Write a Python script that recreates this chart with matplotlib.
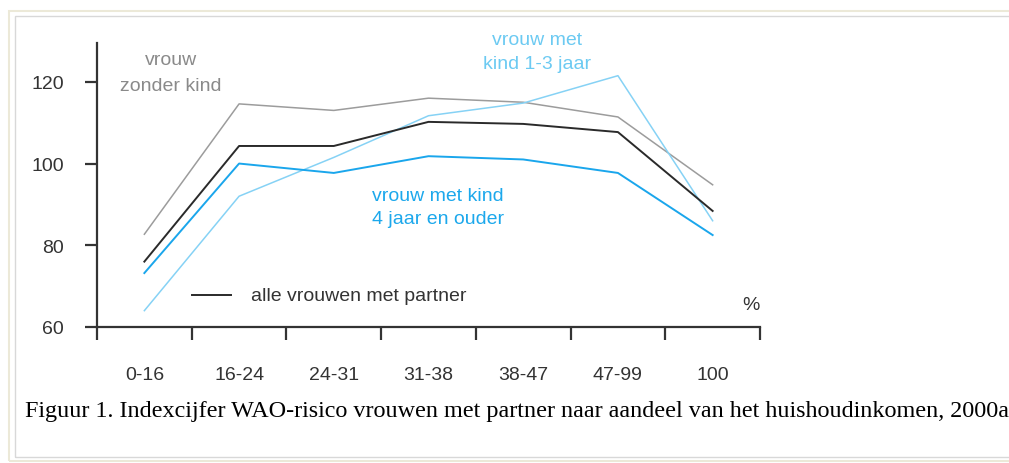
import numpy as np
import matplotlib
matplotlib.use('Agg')
from matplotlib import pyplot as plt
from matplotlib.patches import Rectangle

categories = ['0-16', '16-24', '24-31', '31-38', '38-47', '47-99', '100']
alle = [76, 104.3, 104.3, 110.2, 109.7, 107.7, 88.4]
zonder_kind = [82.7, 114.6, 113, 116, 115, 111.4, 94.8]
kind_1_3 = [64, 92, 101.5, 111.7, 114.8, 121.5, 86]
kind_4_ouder = [73.2, 100, 97.7, 101.8, 101, 97.7, 82.5]
yticks = [60, 80, 100, 120]

W, H = 1009, 464
fig = plt.figure(figsize=(W / 100, H / 100), dpi=100)
plt.rcParams['font.family'] = ['Liberation Sans', 'DejaVu Sans']

# frame round the picture
fig.add_artist(Rectangle((9 / W, 1 - 462 / H), 1.2, (462 - 12) / H, transform=fig.transFigure,
                         fill=False, edgecolor='#ece9d8', lw=1.5))
fig.add_artist(Rectangle((15 / W, 1 - 458 / H), 1.2, (458 - 17) / H, transform=fig.transFigure,
                         fill=False, edgecolor='#d8d8d8', lw=1))

ax = fig.add_axes([97 / W, 1 - 328 / H, (760 - 97) / W, (328 - 44) / H])
x = np.arange(len(categories)) + 0.5

ax.plot(x, zonder_kind, color='#9c9c9c', lw=1.1)
ax.plot(x, kind_1_3, color='#86d2f5', lw=1.1)
ax.plot(x, alle, color='#2a2a2a', lw=1.4)
ax.plot(x, kind_4_ouder, color='#1aa6ec', lw=1.4)

ax.set_xlim(0, len(categories))
ax.set_ylim(60, 129.5)

for s in ['top', 'right']:
    ax.spines[s].set_visible(False)
for s in ['left', 'bottom']:
    ax.spines[s].set_color('#333333')
    ax.spines[s].set_linewidth(1.6)

ax.set_yticks(yticks)
ax.set_yticklabels([str(v) for v in yticks])
ax.tick_params(axis='y', direction='out', length=8.6, width=1.6, color='#333333',
               pad=15, labelsize=14, labelcolor='#333333')

ax.set_xticks(np.arange(len(categories) + 1))
ax.set_xticklabels([])
ax.set_xticks(x, minor=True)
ax.set_xticklabels(categories, minor=True)
ax.tick_params(axis='x', which='major', direction='out', length=9.4, width=1.6, color='#333333')
ax.tick_params(axis='x', which='minor', length=0, pad=28, labelsize=14, labelcolor='#333333')

ax.text(0.78, 122.3, 'vrouw\nzonder kind', color='#8a8a8a', fontsize=14, ha='center', va='center',
        linespacing=1.65)
ax.text(4.65, 127.5, 'vrouw met\nkind 1-3 jaar', color='#6ccaf2', fontsize=14, ha='center', va='center',
        linespacing=1.55)
ax.text(3.6, 89.4, 'vrouw met kind\n4 jaar en ouder', color='#1ca8ec', fontsize=14, ha='center', va='center',
        linespacing=1.5)
ax.plot([1.0, 1.42], [67.8, 67.8], color='#2a2a2a', lw=1.4)
ax.text(1.63, 67.8, 'alle vrouwen met partner', color='#333333', fontsize=14, va='center')
ax.text(6.9, 65.5, '%', color='#333333', fontsize=14, ha='center', va='center')

fig.text(25 / W, 1 - 412 / H, 'Figuur 1. Indexcijfer WAO-risico vrouwen met partner naar aandeel van het '
         'huishoudinkomen, 2000a', family='Liberation Serif', fontsize=17.4, va='center', color='black')

fig.savefig('out.png', dpi=100)
